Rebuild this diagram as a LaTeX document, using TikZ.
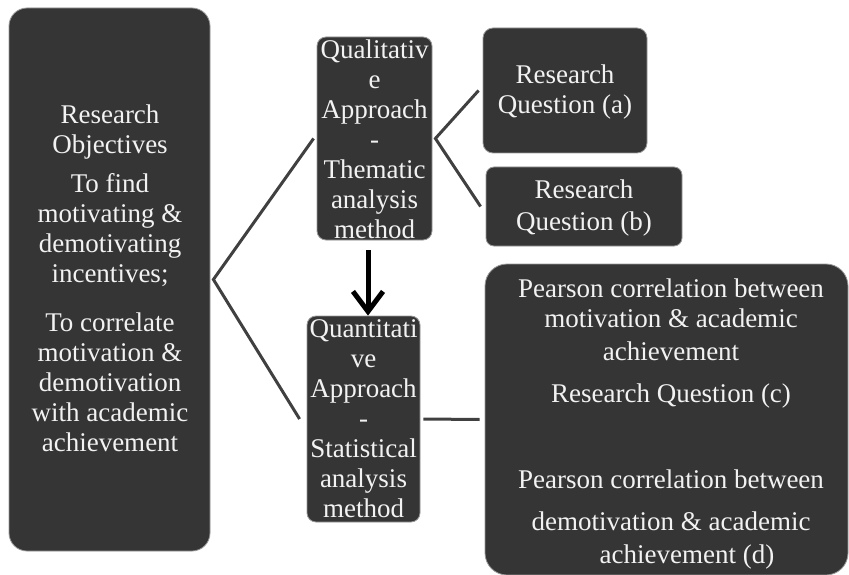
\documentclass[tikz,border=0pt]{standalone}
\usepackage{fontspec}
\setmainfont{Liberation Serif}
\usetikzlibrary{arrows.meta}
\definecolor{boxfill}{HTML}{353535}
\definecolor{boxtext}{HTML}{F2F2F2}
\definecolor{linkgray}{HTML}{404040}
\begin{document}
\begin{tikzpicture}[x=1pt,y=-1pt,
  panel/.style={draw=black!40, line width=0.8pt, fill=boxfill, inner sep=0pt},
  paneltext/.style={anchor=north, inner sep=0pt, align=center, text=boxtext,
    font=\fontsize{27}{30}\selectfont},
  link/.style={draw=linkgray, line width=3pt},
  flow/.style={draw=black, line width=5pt, -{Straight Barb[length=20pt,width=30pt]}}]
\useasboundingbox (0,0) rectangle (849,575);

% boxes
\node[panel, rounded corners=18pt, minimum width=201pt, minimum height=543pt] (obj) at (109.5,279.5) {};
\node[panel, rounded corners=9pt, minimum width=115pt, minimum height=203pt] (qual) at (374.5,138.5) {};
\node[panel, rounded corners=9pt, minimum width=113pt, minimum height=206pt] (quant) at (363.5,419) {};
\node[panel, rounded corners=10pt, minimum width=164pt, minimum height=125pt] (rqa) at (565,90.5) {};
\node[panel, rounded corners=8pt, minimum width=196pt, minimum height=79pt] (rqb) at (584,206.5) {};
\node[panel, rounded corners=22pt, minimum width=363pt, minimum height=311pt] (big) at (666.5,419.5) {};

% box texts
\node[paneltext] (obj-t) at (110,102) {\strut Research\\Objectives\\[9pt]
  To find\\motivating \&\\demotivating\\incentives;\\[19pt]
  To correlate\\motivation \&\\demotivation\\with academic\\achievement\strut};
\node[paneltext] (qual-t) at (374.5,37) {\strut Qualitativ\\e\\Approach\\-\\Thematic\\analysis\\method\strut};
\node[paneltext] (quant-t) at (363.5,316) {\strut Quantitati\\ve\\Approach\\-\\Statistical\\analysis\\method\strut};
\node[paneltext] (rqa-t) at (565,62) {\strut Research\\Question (a)\strut};
\node[paneltext] (rqb-t) at (584,177) {\strut Research\\[2pt]Question (b)\strut};
\node[paneltext] (big-t) at (671,276) {\strut Pearson correlation between\\
  motivation \& academic\\[3pt]
  achievement\\[12pt]
  Research Question (c)\\[56pt]
  Pearson correlation between\\[12pt]
  demotivation \& academic\\[3pt]
  \hspace*{32pt}achievement (d)\strut};

% connectors
\draw[link] ([xshift=-3pt]qual.west) -- ([xshift=3pt]obj.east) -- ([xshift=-7pt]quant.west);
\draw[link] ([xshift=-4pt]rqa.west) -- ([xshift=3pt]qual.east) -- ([xshift=-5pt]rqb.west);
\draw[link] ([xshift=3pt]quant.east) -- ([xshift=-5pt]big.west);
\draw[flow] ([xshift=-6.5pt,yshift=-10pt]qual.south) -- ([xshift=4.5pt]quant.north);
\end{tikzpicture}
\end{document}
